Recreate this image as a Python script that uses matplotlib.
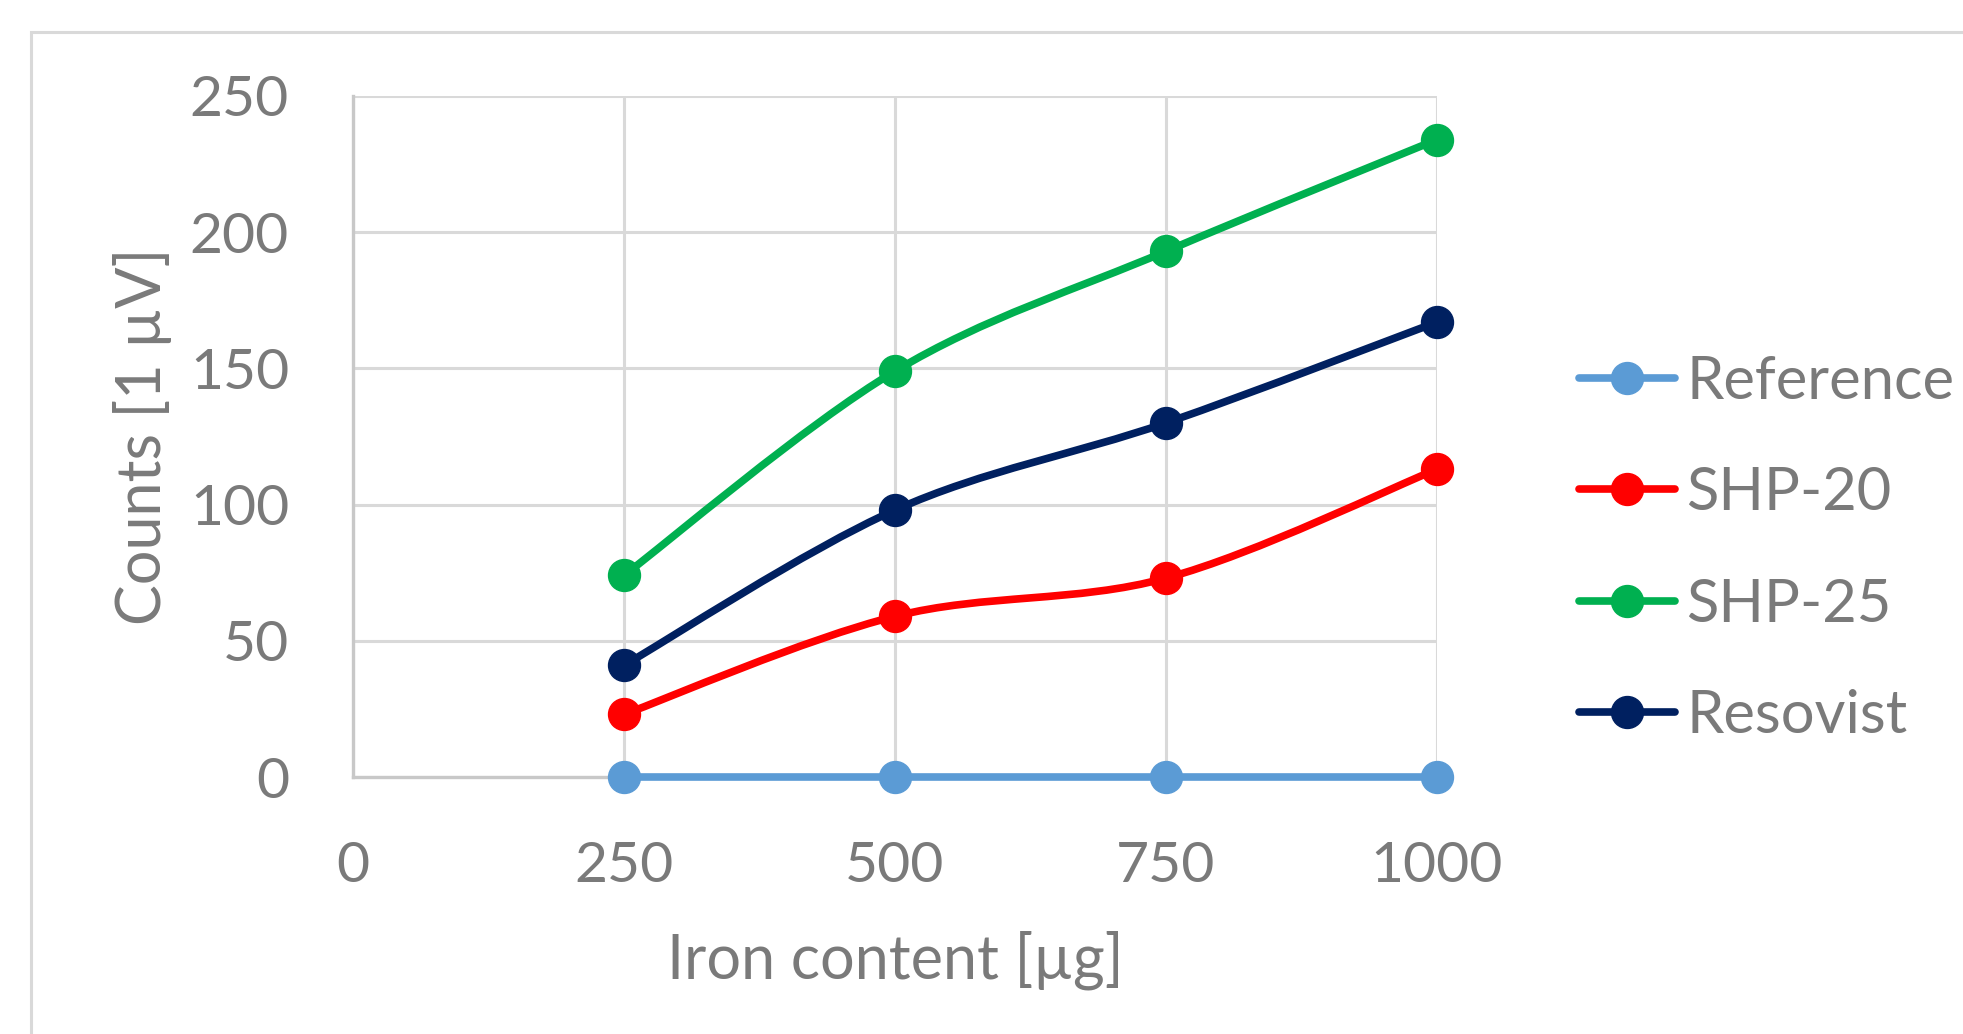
import matplotlib as mpl
mpl.use('Agg')

import matplotlib.pyplot as plt
from matplotlib.path import Path
from matplotlib.patches import PathPatch, Rectangle
from matplotlib.lines import Line2D

plt.rcParams['font.family'] = ['Lato', 'DejaVu Sans']

# data
iron = [250, 500, 750, 1000]
reference = [0, 0, 0, 0]
shp20 = [23, 59, 73, 113]
shp25 = [74, 149, 193, 234]
resovist = [41, 98, 130, 167]

series = [
    ('Reference', reference, '#5b9bd5'),
    ('SHP-20', shp20, '#ff0000'),
    ('SHP-25', shp25, '#00b050'),
    ('Resovist', resovist, '#002060'),
]

text_col = '#7a7a7a'
grid_col = '#d9d9d9'


def smooth_path(xs, ys):
    # excel style smoothed line: bezier segments through the points
    pts = list(zip(xs, ys))
    n = len(pts)
    verts = [pts[0]]
    codes = [Path.MOVETO]
    for i in range(n - 1):
        p0 = pts[i - 1] if i > 0 else pts[i]
        p1 = pts[i]
        p2 = pts[i + 1]
        p3 = pts[i + 2] if i + 2 < n else pts[i + 1]
        c1 = (p1[0] + (p2[0] - p0[0]) / 6, p1[1] + (p2[1] - p0[1]) / 6)
        c2 = (p2[0] - (p3[0] - p1[0]) / 6, p2[1] - (p3[1] - p1[1]) / 6)
        verts += [c1, c2, p2]
        codes += [Path.CURVE4] * 3
    return Path(verts, codes)


fig = plt.figure(figsize=(19.63, 10.34), dpi=100)

# outer chart border (cut off at right and bottom)
fig.patches.append(Rectangle((31 / 1963, -0.1), 1.0, 1 - 32 / 1034 + 0.1,
                             transform=fig.transFigure, fill=False,
                             edgecolor=grid_col, linewidth=2.2))

ax = fig.add_axes([353 / 1963, 1 - 777 / 1034, (1437 - 353) / 1963,
                   (777 - 96) / 1034])
ax.set_xlim(0, 1000)
ax.set_ylim(0, 250)
ax.set_xticks([0, 250, 500, 750, 1000])
ax.set_yticks([0, 50, 100, 150, 200, 250])
ax.grid(True, color=grid_col, linewidth=2.2)
ax.set_axisbelow(True)
for s in ['top', 'right']:
    ax.spines[s].set_visible(False)
for s in ['left', 'bottom']:
    ax.spines[s].set_color('#c8c8c8')
    ax.spines[s].set_linewidth(2.4)
ax.tick_params(length=0, labelsize=41, labelcolor=text_col)
ax.tick_params(axis='y', pad=46)
ax.tick_params(axis='x', pad=46)

handles = []
for name, vals, col in series:
    ax.add_patch(PathPatch(smooth_path(iron, vals), facecolor='none',
                           edgecolor=col, linewidth=5.5, capstyle='round',
                           zorder=3, clip_on=False))
    ax.plot(iron, vals, linestyle='none', marker='o', markersize=23,
            color=col, zorder=4, clip_on=False)
    handles.append(Line2D([], [], color=col, linewidth=5.5, marker='o',
                          markersize=23, solid_capstyle='round'))

ax.set_xlabel('Iron content [µg]', fontsize=44, color=text_col, labelpad=28)
ax.set_ylabel('Counts [1 µV]', fontsize=44, color=text_col)
ax.yaxis.set_label_coords(-181 / 1084, 0.5)

fig.legend(handles, [s[0] for s in series], loc='center left',
           bbox_to_anchor=(1579 / 1963, 1 - 549 / 1034), frameon=False,
           fontsize=43, labelcolor=text_col, handlelength=1.6,
           handletextpad=0.2, labelspacing=0.96, borderpad=0,
           borderaxespad=0)

plt.savefig('out.png', dpi=100)
